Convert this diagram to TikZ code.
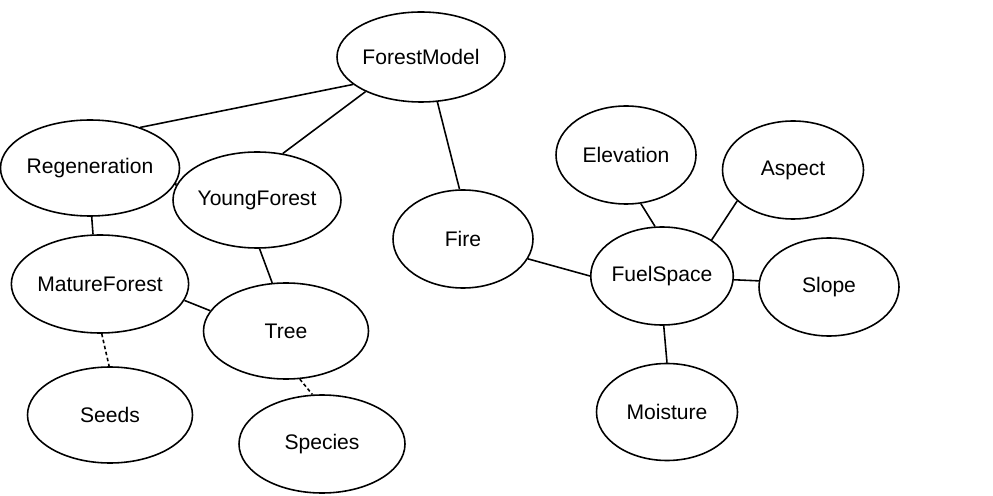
\documentclass[tikz,border=0pt]{standalone}
\usepackage{fontspec}
\setmainfont{Liberation Sans}
\usetikzlibrary{shapes.geometric}
\begin{document}
\begin{tikzpicture}[x=0.02cm,y=-0.02cm,
  ell/.style={ellipse,draw,line width=0.9pt,inner sep=0pt,font=\fontsize{12}{14}\selectfont},
  link/.style={line width=0.9pt},
  dotlink/.style={line width=0.9pt,dash pattern=on 2pt off 1.5pt}]
\useasboundingbox (0,0) rectangle (993,496);
\node[ell,minimum width=168*0.02cm,minimum height=90*0.02cm] (fm) at (421,57) {ForestModel};
\node[ell,minimum width=166*0.02cm,minimum height=96*0.02cm] (reg) at (90,168) {Regeneration};
\node[ell,minimum width=165*0.02cm,minimum height=96*0.02cm] (yf) at (257,200) {YoungForest};
\node[ell,minimum width=140*0.02cm,minimum height=98*0.02cm] (fire) at (463,239) {Fire};
\node[ell,minimum width=165*0.02cm,minimum height=98*0.02cm] (mf) at (100,284) {MatureForest};
\node[ell,minimum width=165*0.02cm,minimum height=96*0.02cm] (tree) at (286,331) {Tree};
\node[ell,minimum width=165*0.02cm,minimum height=96*0.02cm] (seeds) at (110,415) {Seeds};
\node[ell,minimum width=166*0.02cm,minimum height=98*0.02cm] (species) at (322,444) {Species};
\node[ell,minimum width=140*0.02cm,minimum height=98*0.02cm] (elev) at (626,155) {Elevation};
\node[ell,minimum width=141*0.02cm,minimum height=98*0.02cm] (aspect) at (793,170) {Aspect};
\node[ell,minimum width=141*0.02cm,minimum height=98*0.02cm] (fs) at (662,276) {FuelSpace};
\node[ell,minimum width=140*0.02cm,minimum height=98*0.02cm] (slope) at (829,287) {Slope};
\node[ell,minimum width=141*0.02cm,minimum height=97*0.02cm] (moist) at (667,412) {Moisture};

\draw[link] (fm.202.7) -- (reg.39.8);
\draw[link] (fm.212.4) -- (yf.61);
\draw[link] (fm.290.7) -- (fire.94.7);
\draw[link] (reg.-10.9) -- (yf.170.4);
\draw[link] (reg.272) -- (mf.98);
\draw[link] (yf.273.5) -- (tree.106);
\draw[link] (mf.-11.3) -- (tree.165.3);
\draw[dotlink] (mf.272) -- (seeds.91);
\draw[dotlink] (tree.286.3) -- (species.101.8);
\draw[link] (fire.-17.7) -- (fs.180);
\draw[link] (elev.-73.7) -- (fs.98.3);
\draw[link] (aspect.209.3) -- (fs.36.9);
\draw[link] (fs.-3.3) -- (slope.175.9);
\draw[link] (fs.272.3) -- (moist.90);
\end{tikzpicture}
\end{document}
